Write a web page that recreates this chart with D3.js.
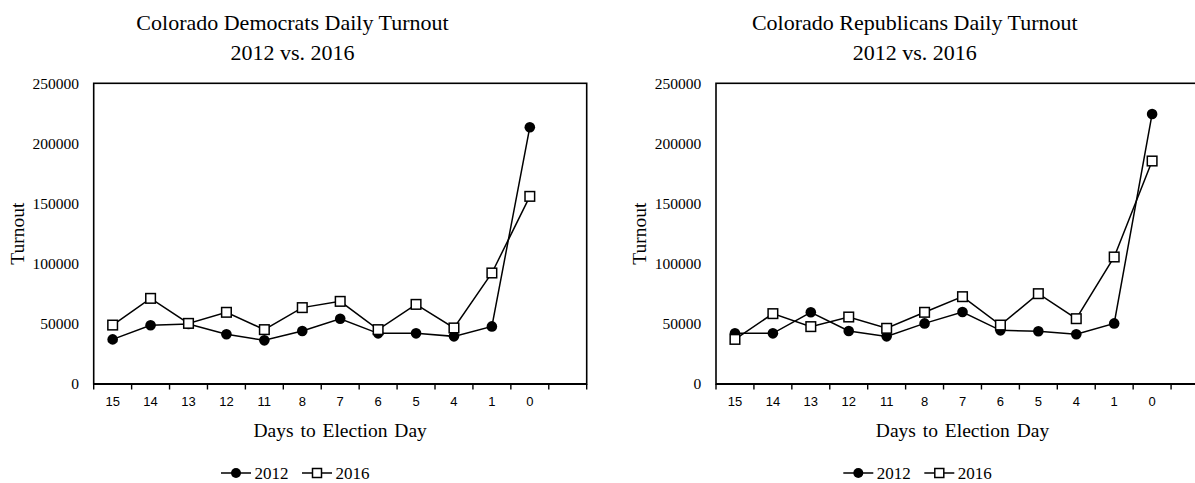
<!DOCTYPE html>
<html>
<head>
<meta charset="utf-8">
<script src="https://cdn.jsdelivr.net/npm/d3@7"></script>
<style>
  html, body { margin: 0; padding: 0; background: #fff; }
  svg { display: block; }
  .serif { font-family: "Liberation Serif", "Times New Roman", serif; fill: #000; }
  .sans { font-family: "Liberation Sans", Arial, sans-serif; fill: #000; }
</style>
</head>
<body>
<svg id="chart" width="1195" height="483"></svg>
<script>
// Days remaining before Election Day (category axis, left to right)
const days = ["15", "14", "13", "12", "11", "8", "7", "6", "5", "4", "1", "0"];

// Daily ballots returned, Colorado Democrats
const dem2012 = [37100, 48800, 49900, 41300, 36300, 44100, 54300, 42100, 42100, 39600, 47900, 213500];
const dem2016 = [49000, 71200, 50400, 59600, 45200, 63500, 68700, 45200, 66200, 46600, 92300, 156000];

// Daily ballots returned, Colorado Republicans
const rep2012 = [42100, 42100, 59600, 44100, 39600, 50400, 59900, 44600, 43800, 41300, 50400, 224500];
const rep2016 = [37100, 58500, 47700, 55700, 46300, 59600, 72600, 49000, 75100, 54300, 105600, 185400];

const yTicks = [0, 50000, 100000, 150000, 200000, 250000];
const seriesNames = ["2012", "2016"];

const panels = [
  { title: "Colorado Democrats Daily Turnout", s2012: dem2012, s2016: dem2016, dx: 0 },
  { title: "Colorado Republicans Daily Turnout", s2012: rep2012, s2016: rep2016, dx: 622.3 }
];

const svg = d3.select("#chart");

// Plot frame inside each panel
const plot = { left: 93.7, right: 586.7, top: 83.3, bottom: 384 };

function drawPanel(p) {
  const g = svg.append("g").attr("transform", `translate(${p.dx},0)`);

  // one empty slot after the last day, as in the category axis
  const x = d3.scaleBand()
    .domain(days.concat([" "]))
    .range([plot.left, plot.right])
    .paddingInner(0).paddingOuter(0);
  const y = d3.scaleLinear().domain([0, 250000]).range([plot.bottom, plot.top]);
  const cx = d => x(d) + x.bandwidth() / 2;

  // Titles
  const title = g.append("text").attr("class", "serif")
    .attr("text-anchor", "middle").style("font-size", "22px");
  title.append("tspan").attr("x", 292.5).attr("y", 29.5).text(p.title);
  title.append("tspan").attr("x", 292.5).attr("y", 60).text("2012 vs. 2016");

  // Plot frame
  g.append("rect")
    .attr("x", plot.left).attr("y", plot.top)
    .attr("width", plot.right - plot.left).attr("height", plot.bottom - plot.top)
    .attr("fill", "none").attr("stroke", "#000").attr("stroke-width", 1.6);

  // Y axis labels (no tick marks)
  g.append("g").selectAll("text").data(yTicks).join("text")
    .attr("class", "serif")
    .attr("x", 79).attr("y", d => y(d)).attr("dy", "0.34em")
    .attr("text-anchor", "end").style("font-size", "15.5px")
    .text(d => d);

  // X axis: tick marks between categories, labels centred in slots
  const xAxis = d3.axisBottom(x).tickSize(0).tickFormat(d => d);
  const ax = g.append("g").attr("transform", `translate(0,${plot.bottom})`).call(xAxis);
  ax.select(".domain").attr("stroke", "#000").attr("stroke-width", 2.2)
    .attr("d", `M${plot.left},0H${plot.right}`);
  ax.selectAll(".tick text").attr("class", "sans").attr("fill", "#000")
    .attr("y", 13).attr("dy", "0.71em").style("font-size", "13px")
    .style("font-family", "'Liberation Sans', Arial, sans-serif");
  const edges = x.domain().map(d => x(d)).concat([plot.right]);
  ax.append("g").selectAll("line").data(edges).join("line")
    .attr("x1", d => d).attr("x2", d => d)
    .attr("y1", 0).attr("y2", 5.5)
    .attr("stroke", "#000").attr("stroke-width", 1.4);

  // Axis titles
  g.append("text").attr("class", "serif")
    .attr("transform", `translate(23.5,${(plot.top + plot.bottom) / 2}) rotate(-90)`)
    .attr("text-anchor", "middle").style("font-size", "19.5px")
    .text("Turnout");
  g.append("text").attr("class", "serif")
    .attr("x", (plot.left + plot.right) / 2).attr("y", 437)
    .attr("text-anchor", "middle").style("font-size", "19.5px")
    .style("word-spacing", "2px")
    .text("Days to Election Day");

  const line = d3.line().x((d, i) => cx(days[i])).y(d => y(d));

  // 2012 series: solid black circles
  g.append("path").datum(p.s2012).attr("d", line)
    .attr("fill", "none").attr("stroke", "#000").attr("stroke-width", 1.5);
  g.append("g").selectAll("circle").data(p.s2012).join("circle")
    .attr("cx", (d, i) => cx(days[i])).attr("cy", d => y(d))
    .attr("r", 5.3).attr("fill", "#000");

  // 2016 series: open squares
  g.append("path").datum(p.s2016).attr("d", line)
    .attr("fill", "none").attr("stroke", "#000").attr("stroke-width", 1.5);
  g.append("g").selectAll("rect").data(p.s2016).join("rect")
    .attr("x", (d, i) => cx(days[i]) - 4.8).attr("y", d => y(d) - 4.8)
    .attr("width", 9.6).attr("height", 9.6)
    .attr("fill", "#fff").attr("stroke", "#000").attr("stroke-width", 1.5);

  // Legend
  const lg = g.append("g").attr("transform", "translate(0,473)");
  const items = [
    { name: seriesNames[0], x0: 221, kind: "circle" },
    { name: seriesNames[1], x0: 302, kind: "square" }
  ];
  items.forEach(it => {
    lg.append("line").attr("x1", it.x0).attr("x2", it.x0 + 30)
      .attr("y1", 0).attr("y2", 0).attr("stroke", "#000").attr("stroke-width", 1.5);
    if (it.kind === "circle") {
      lg.append("circle").attr("cx", it.x0 + 15).attr("cy", 0).attr("r", 5).attr("fill", "#000");
    } else {
      lg.append("rect").attr("x", it.x0 + 15 - 4.5).attr("y", -4.5)
        .attr("width", 9).attr("height", 9)
        .attr("fill", "#fff").attr("stroke", "#000").attr("stroke-width", 1.5);
    }
    lg.append("text").attr("class", "serif")
      .attr("x", it.x0 + 33.5).attr("y", 5.8)
      .style("font-size", "17px").text(it.name);
  });
}

panels.forEach(drawPanel);
</script>
</body>
</html>
